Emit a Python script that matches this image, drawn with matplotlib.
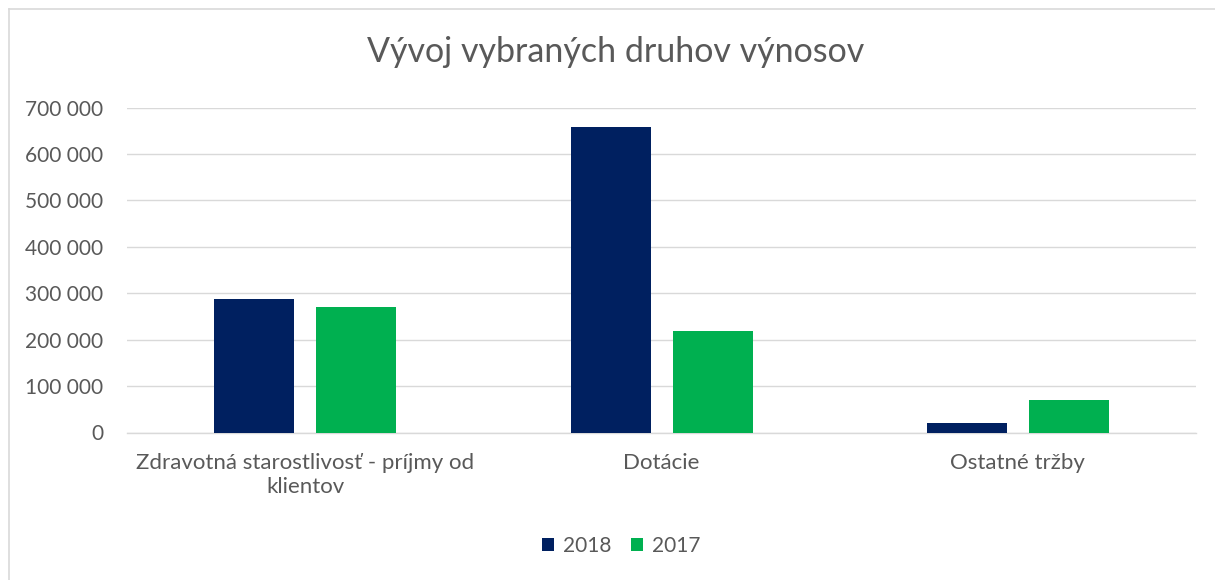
import matplotlib
matplotlib.use("Agg")
import matplotlib.pyplot as plt
import numpy as np
from matplotlib.lines import Line2D

categories = ["Zdravotná starostlivosť - príjmy od\nklientov", "Dotácie", "Ostatné tržby"]
series_names = ["2018", "2017"]
values_2018 = [288000, 658000, 20000]
values_2017 = [270000, 218000, 70000]
yticks = [0, 100000, 200000, 300000, 400000, 500000, 600000, 700000]
ytick_labels = ["0", "100 000", "200 000", "300 000", "400 000", "500 000", "600 000", "700 000"]

colors = ["#002060", "#00B050"]
text_color = "#595959"
grid_color = "#D9D9D9"

plt.rcParams['font.family'] = ['Lato', 'DejaVu Sans']

W, H = 1215, 580
left_px, right_px = 127, 1196
fig = plt.figure(figsize=(W / 100, H / 100), dpi=100)
ax = fig.add_axes([left_px / W, (H - 432.5) / H, (right_px - left_px) / W, (432.5 - 107.5) / H])

cat_w = (right_px - left_px) / 3
x = np.arange(len(categories))
bw = 80 / cat_w
off = 51 / cat_w
ax.bar(x - off, values_2018, width=bw, color=colors[0], label=series_names[0], zorder=3)
ax.bar(x + off, values_2017, width=bw, color=colors[1], label=series_names[1], zorder=3)

ax.set_xlim(-0.5, len(categories) - 0.5)
ax.set_ylim(0, 700000)
ax.set_yticks(yticks)
ax.set_yticklabels(ytick_labels)
ax.set_xticks(x)
ax.set_xticklabels(categories, multialignment="center")
ax.yaxis.grid(True, color=grid_color, linewidth=1.0, zorder=0)
ax.set_axisbelow(True)
for s in ["top", "right", "left"]:
    ax.spines[s].set_visible(False)
ax.spines["bottom"].set_color(grid_color)
ax.spines["bottom"].set_linewidth(1.0)
ax.tick_params(axis="both", length=0, colors=text_color)
ax.tick_params(axis="x", labelsize=16, pad=15)
ax.tick_params(axis="y", labelsize=15, pad=17)

fig.text(616 / W, 1 - 52 / H, "Vývoj vybraných druhov výnosov", ha="center", va="center",
         fontsize=24.5, color=text_color)

fig.legend(loc="center", bbox_to_anchor=(621 / W, 1 - 546 / H), ncol=2, frameon=False,
           fontsize=15, handlelength=0.6, handleheight=0.6, handletextpad=0.4,
           columnspacing=0.95, labelcolor=text_color)

# outer chart border (left and top visible)
fig.add_artist(Line2D([8.5 / W, 8.5 / W], [0, 1 - 8.5 / H], transform=fig.transFigure,
                      color=grid_color, linewidth=1.2))
fig.add_artist(Line2D([8.5 / W, 1], [1 - 8.5 / H, 1 - 8.5 / H], transform=fig.transFigure,
                      color=grid_color, linewidth=1.2))

fig.savefig("out.png", dpi=100)
